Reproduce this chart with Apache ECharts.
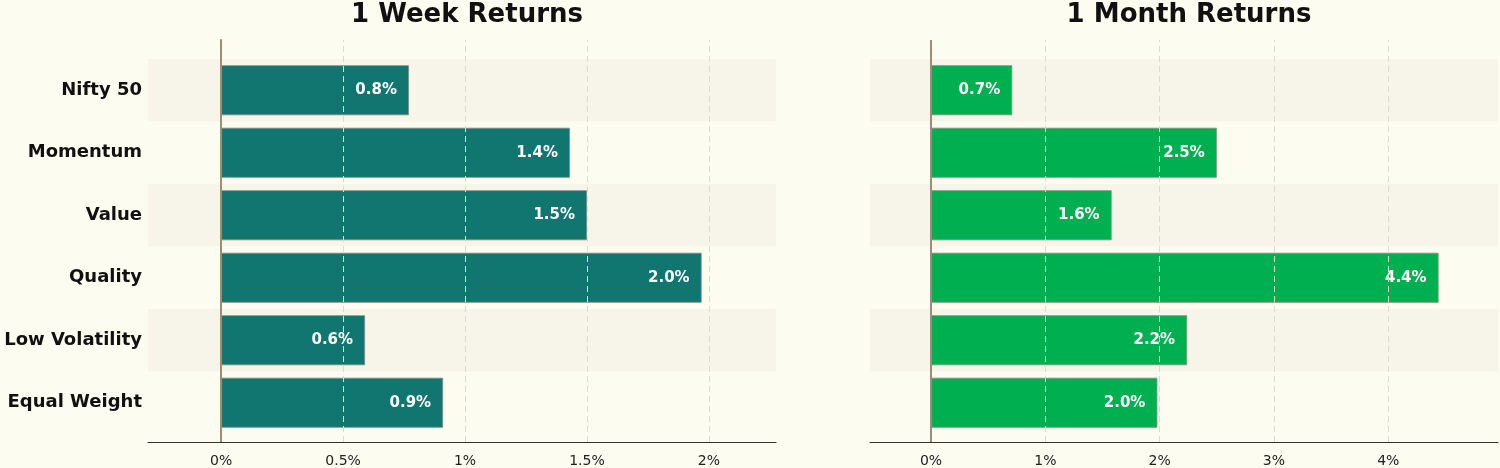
<!DOCTYPE html>
<html><head><meta charset="utf-8">
<script src="https://cdn.jsdelivr.net/npm/echarts@6/dist/echarts.min.js"></script>
<style>html,body{margin:0;background:#fdfcf0}#c{width:1500px;height:468px}</style>
</head><body><div id="c"></div>
<script>
const categories = ['Nifty 50', 'Momentum', 'Value', 'Quality', 'Low Volatility', 'Equal Weight'];
const weekReturns = [0.77, 1.43, 1.50, 1.97, 0.59, 0.91];
const monthReturns = [0.71, 2.50, 1.58, 4.44, 2.24, 1.98];
const weekTicks = [0, 0.5, 1, 1.5, 2];
const monthTicks = [0, 1, 2, 3, 4];

const chart = echarts.init(document.getElementById('c'));
const font = 'DejaVu Sans';

function fullX(idx, min, max, ticks) {
  return {
    type: 'value', gridIndex: idx, min: min, max: max,
    splitLine: { show: false }, axisTick: { show: false },
    axisLine: { show: true, lineStyle: { color: '#333', width: 1.2 } },
    axisLabel: {
      customValues: ticks, fontFamily: font, fontSize: 14, color: '#222', margin: 12,
      formatter: v => (Math.round(v * 10) / 10) + '%'
    }
  };
}
function barX(idx, min, max) {
  return { type: 'value', gridIndex: idx, min: min, max: max, show: false, splitLine: { show: false } };
}
function guide(xi, yi, ticks) {
  return {
    type: 'scatter', xAxisIndex: xi, yAxisIndex: yi, data: [], z: 1, silent: true,
    markLine: {
      symbol: 'none', silent: true, label: { show: false },
      data: ticks.map(t => ({
        xAxis: t,
        lineStyle: t === 0 ? { color: '#9b8e74', type: 'solid', width: 2 }
                           : { color: '#dcdccb', type: [6, 4], width: 1 }
      }))
    }
  };
}
function bars(xi, yi, values, color) {
  return {
    type: 'bar', xAxisIndex: xi, yAxisIndex: yi, data: values, barWidth: 50, z: 2,
    itemStyle: { color: color, borderColor: '#8a8a7a', borderWidth: 0.8 },
    label: {
      show: true, position: 'insideRight', distance: 12, color: '#fff',
      fontFamily: font, fontWeight: 'bold', fontSize: 15,
      formatter: p => p.value.toFixed(1) + '%'
    }
  };
}
const catY = (idx, showLabels) => ({
  type: 'category', gridIndex: idx, data: categories, inverse: true,
  axisLine: { show: false }, axisTick: { show: false },
  axisLabel: { show: showLabels, fontFamily: font, fontWeight: 'bold', fontSize: 18, color: '#111', margin: 6 },
  splitArea: { show: true, areaStyle: { color: ['#f7f5ea', 'rgba(0,0,0,0)'] } }
});

chart.setOption({
  backgroundColor: '#fdfcf0',
  animation: false,
  title: [
    { text: '1 Week Returns', left: 462, top: -3, textAlign: 'center',
      textStyle: { fontFamily: font, fontSize: 26, fontWeight: 'bold', color: '#111' } },
    { text: '1 Month Returns', left: 1184, top: -3, textAlign: 'center',
      textStyle: { fontFamily: font, fontSize: 26, fontWeight: 'bold', color: '#111' } }
  ],
  grid: [
    { left: 148, right: 724, top: 40, bottom: 21 },
    { left: 148, right: 724, top: 59, bottom: 34 },
    { left: 870, right: 2, top: 40, bottom: 21 },
    { left: 870, right: 2, top: 59, bottom: 34 }
  ],
  xAxis: [
    fullX(0, -0.3, 2.275, weekTicks), barX(1, -0.3, 2.275),
    fullX(2, -0.534, 4.96, monthTicks), barX(3, -0.534, 4.96)
  ],
  yAxis: [
    { type: 'value', gridIndex: 0, axisLabel: { show: false }, splitLine: { show: false },
      axisLine: { show: true, lineStyle: { color: '#9b8e74', width: 2 } } },
    catY(1, true),
    { type: 'value', gridIndex: 2, show: false, splitLine: { show: false } },
    catY(3, false)
  ],
  series: [
    guide(0, 0, weekTicks), bars(1, 1, weekReturns, '#11766f'),
    guide(2, 2, monthTicks), bars(3, 3, monthReturns, '#00af50')
  ]
});
</script></body></html>
